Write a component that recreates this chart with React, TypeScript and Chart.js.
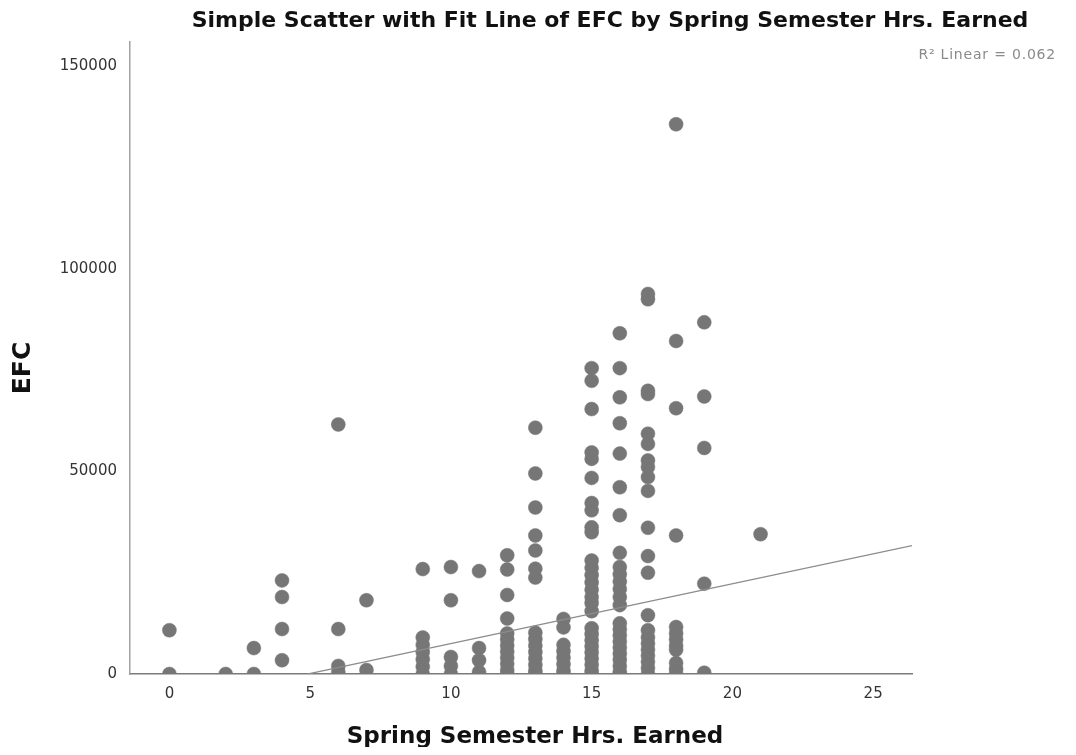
import React, { useEffect, useRef } from "react";
import { Chart, registerables } from "chart.js";

Chart.register(...registerables);

// Spring semester hours earned (x) and the EFC values observed at each
const hourGroups = [0, 2, 3, 4, 6, 7, 9, 10, 11, 12, 13, 14, 15, 16, 17, 18, 19, 21];
const efcGroups: number[][] = [
  [10800, 0],
  [0],
  [6400, 0],
  [23100, 19000, 11100, 3400],
  [61600, 11100, 2000, 500],
  [18200, 1000],
  [25900, 9000, 7200, 5400, 3600, 1800, 0],
  [26400, 18200, 4200, 2000, 0],
  [25400, 6400, 3400, 500],
  [29300, 25800, 19500, 13700, 10000, 8500, 7000, 5500, 4000, 2500, 1000, 0],
  [60800, 49500, 41100, 34200, 30500, 26000, 23800, 10200, 8600, 7000, 5400, 3800, 2200, 700, 0],
  [13600, 11500, 7200, 5600, 4000, 2400, 800, 0],
  [75500, 72400, 65400, 54700, 53100, 48400, 42200, 40400, 36200, 35000, 28000, 26200, 24400, 22600, 20800, 19000, 17500, 15500, 11300, 9800, 8300, 6800, 5300, 3800, 2300, 800, 0],
  [84100, 75500, 68300, 61900, 54400, 46100, 39200, 29900, 26400, 24600, 22800, 21000, 19000, 17000, 12500, 11000, 9500, 8000, 6500, 5000, 3500, 2000, 500, 0],
  [93800, 92500, 69900, 69100, 59300, 56800, 52700, 51100, 48600, 45200, 36100, 29100, 25000, 14500, 10800, 9000, 7500, 6000, 4500, 3000, 1500, 0],
  [135700, 82200, 65600, 34200, 11600, 10000, 8500, 7000, 6000, 2700, 1200, 0],
  [86800, 68500, 55800, 22300, 300],
  [34500],
];

const xTicks = [0, 5, 10, 15, 20, 25];
const yTicks = [0, 50000, 100000, 150000];

// Linear fit line
const fitSlope = 1476;
const fitIntercept = -7250;
const rSquaredLabel = "R\u00B2 Linear = 0.062";

const titleText = "Simple Scatter with Fit Line of EFC by Spring Semester Hrs. Earned";
const xTitle = "Spring Semester Hrs. Earned";
const yTitle = "EFC";

const X_MIN = -1.4;
const X_MAX = 26.38;
const Y_MIN = 0;
const Y_MAX = 156000;

const points = hourGroups.flatMap((h, i) => efcGroups[i].map((v) => ({ x: h, y: v })));
const fitLine = [X_MIN, X_MAX].map((x) => ({ x, y: fitSlope * x + fitIntercept }));

const FONT = '"DejaVu Sans", "Liberation Sans", sans-serif';

const textPlugin = {
  id: "spssTexts",
  afterDraw(chart: any) {
    const ctx = chart.ctx as CanvasRenderingContext2D;
    ctx.save();
    ctx.textBaseline = "middle";
    // main title
    ctx.fillStyle = "#111";
    ctx.font = `bold 22px ${FONT}`;
    ctx.textAlign = "center";
    ctx.fillText(titleText, 602, 13);
    // R2 label
    ctx.fillStyle = "#8a8a8a";
    ctx.font = `14px ${FONT}`;
    ctx.textAlign = "right";
    (ctx as any).letterSpacing = "0.8px";
    ctx.fillText(rSquaredLabel, 1048, 47);
    (ctx as any).letterSpacing = "0px";
    // x title
    ctx.fillStyle = "#111";
    ctx.font = `bold 23px ${FONT}`;
    ctx.textAlign = "center";
    ctx.fillText(xTitle, 527, 729);
    // y title
    ctx.font = `bold 25px ${FONT}`;
    ctx.translate(15, 360);
    ctx.rotate(-Math.PI / 2);
    ctx.fillText(yTitle, 0, 0);
    ctx.restore();
  },
};

export default function App() {
  const ref = useRef<HTMLCanvasElement | null>(null);

  useEffect(() => {
    if (!ref.current) return;
    const chart = new Chart(ref.current, {
      type: "scatter",
      data: {
        datasets: [
          {
            type: "line",
            data: fitLine,
            borderColor: "#8c8c8c",
            borderWidth: 1.3,
            pointRadius: 0,
            showLine: true,
            fill: false,
            clip: 0,
            order: 0,
          } as any,
          {
            type: "scatter",
            data: points,
            backgroundColor: "#767676",
            borderColor: "#7a7a7a",
            borderWidth: 0.5,
            pointRadius: 7,
            pointHoverRadius: 7,
            clip: 0,
            order: 1,
          } as any,
        ],
      },
      options: {
        responsive: false,
        animation: false,
        layout: { padding: { top: 34, right: 156, left: 0, bottom: 0 } },
        plugins: {
          legend: { display: false },
          tooltip: { enabled: false },
          title: { display: false },
        },
        scales: {
          x: {
            type: "linear",
            min: X_MIN,
            max: X_MAX,
            afterBuildTicks: (scale: any) => {
              scale.ticks = xTicks.map((v) => ({ value: v }));
            },
            afterFit: (scale: any) => {
              scale.height = 73;
            },
            grid: { display: false, drawTicks: false },
            border: { display: true, color: "#7a7a7a", width: 1.5 },
            ticks: {
              color: "#333",
              padding: 11,
              font: { family: FONT, size: 15 },
              maxRotation: 0,
            },
          },
          y: {
            type: "linear",
            min: Y_MIN,
            max: Y_MAX,
            afterBuildTicks: (scale: any) => {
              scale.ticks = yTicks.map((v) => ({ value: v }));
            },
            afterFit: (scale: any) => {
              scale.width = 122;
            },
            grid: { display: false, drawTicks: false },
            border: { display: true, color: "#a0a0a0", width: 1.5 },
            ticks: {
              color: "#333",
              padding: 13,
              font: { family: FONT, size: 15 },
              callback: (v: any) => String(v),
            },
          },
        },
      },
      plugins: [textPlugin],
    });
    return () => chart.destroy();
  }, []);

  return <canvas ref={ref} width={1060} height={739} style={{ display: "block" }} />;
}
